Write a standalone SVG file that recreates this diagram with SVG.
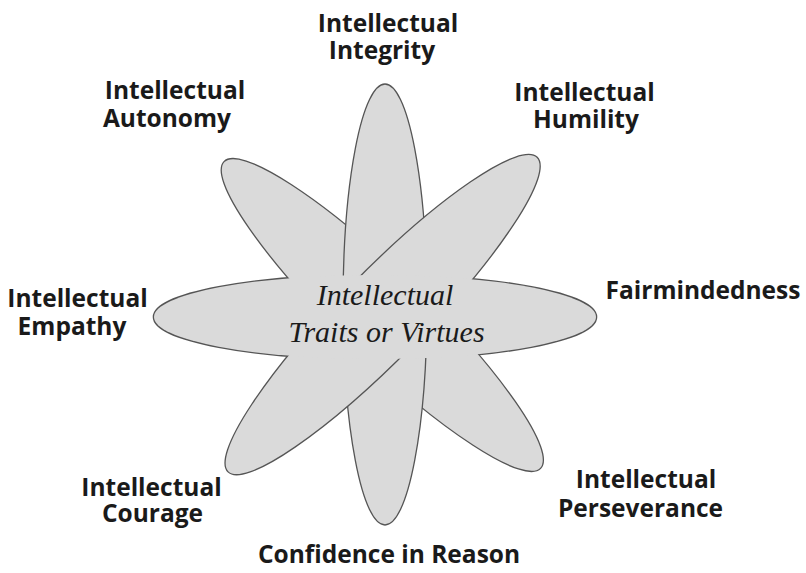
<svg xmlns="http://www.w3.org/2000/svg" width="806" height="573" viewBox="0 0 806 573">
  <style>
    .petal { fill: #dadada; stroke: #555555; stroke-width: 1.3; }
    .edge { fill: none; stroke: #555555; stroke-width: 2.6; }
    .fillonly { fill: #dadada; stroke: none; }
    .lbl { font-family: "Open Sans", "Liberation Sans", sans-serif; font-weight: bold; font-size: 24.5px; fill: #1a1a1a; text-anchor: middle; }
    .ctr { font-family: "Liberation Serif", "DejaVu Serif", serif; font-style: italic; font-size: 30px; fill: #1a1a1a; text-anchor: middle; }
  </style>
  <rect width="806" height="573" fill="#ffffff"/>
  <g id="flower">
    <ellipse class="edge" cx="375" cy="317" rx="221" ry="42"/>
    <ellipse class="petal" cx="0" cy="0" rx="220.4" ry="43" transform="translate(382.3 315) rotate(44.1)"/>
    <ellipse class="petal" cx="385" cy="304.5" rx="42" ry="220.5"/>
    <ellipse class="petal" cx="0" cy="0" rx="220.5" ry="43" transform="translate(382.6 314.6) rotate(-45.5)"/>
    <ellipse class="fillonly" cx="375" cy="317" rx="221" ry="42"/>
  </g>
  <g id="center-label">
    <text class="ctr" x="385" y="305">Intellectual</text>
    <text class="ctr" x="386.5" y="342">Traits or Virtues</text>
  </g>
  <g id="integrity">
    <text class="lbl" x="388" y="32">Intellectual</text>
    <text class="lbl" x="382" y="59">Integrity</text>
  </g>
  <g id="autonomy">
    <text class="lbl" x="175" y="99">Intellectual</text>
    <text class="lbl" x="167" y="127">Autonomy</text>
  </g>
  <g id="humility">
    <text class="lbl" x="584.5" y="101">Intellectual</text>
    <text class="lbl" x="586" y="128">Humility</text>
  </g>
  <g id="fairmindedness">
    <text class="lbl" x="703" y="299">Fairmindedness</text>
  </g>
  <g id="empathy">
    <text class="lbl" x="77.5" y="307">Intellectual</text>
    <text class="lbl" x="72" y="335">Empathy</text>
  </g>
  <g id="courage">
    <text class="lbl" x="151.5" y="496">Intellectual</text>
    <text class="lbl" x="152.5" y="522">Courage</text>
  </g>
  <g id="perseverance">
    <text class="lbl" x="646" y="488">Intellectual</text>
    <text class="lbl" x="640.5" y="517">Perseverance</text>
  </g>
  <g id="confidence">
    <text class="lbl" x="389" y="563">Confidence in Reason</text>
  </g>
</svg>
